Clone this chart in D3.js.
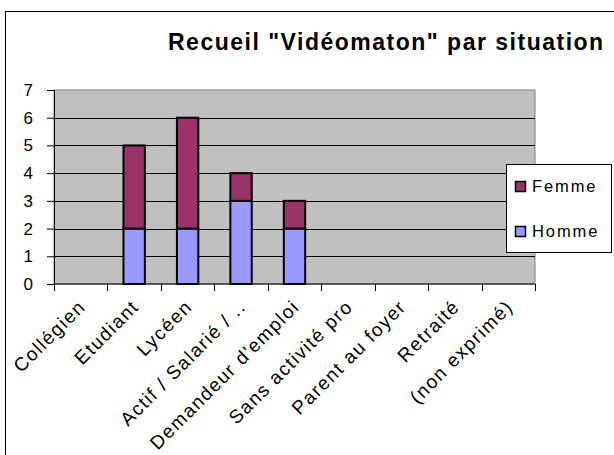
<!DOCTYPE html>
<head>
<meta charset="utf-8">
<title>Recueil "Vidéomaton" par situation</title>
<script src="https://d3js.org/d3.v7.min.js"></script>
<style>
body {
  margin: 0;
  background: #fff;
  font-family: "Liberation Sans", Arial, sans-serif;
}

svg text {
  fill: #000;
}

.title {
  font-size: 23px;
  font-weight: bold;
  letter-spacing: 1.5px;
}

.y.axis text {
  font-size: 17px;
}

.x.axis text {
  font-size: 19px;
  letter-spacing: 1.5px;
}

.grid line {
  stroke: #000;
  stroke-width: 1px;
}

.legend text {
  font-size: 16.5px;
  letter-spacing: 1.9px;
}
</style>
</head>
<body>
<script>

// categories and values
const categories = ["Collégien", "Etudiant", "Lycéen", "Actif / Salarié / ..", "Demandeur d'emploi",
  "Sans activité pro", "Parent au foyer", "Retraité", "(non exprimé)"];
const homme = [0, 2, 2, 3, 2, 0, 0, 0, 0];
const femme = [0, 3, 4, 1, 1, 0, 0, 0, 0];
const seriesNames = ["Homme", "Femme"];
const yTicks = [0, 1, 2, 3, 4, 5, 6, 7];

const width = 614,
  height = 455;

const color = d3.scaleOrdinal()
  .domain(seriesNames)
  .range(["#9999FF", "#993366"]);

const margin = {top: 90, right: 79, bottom: 171, left: 54};
const plotW = width - margin.left - margin.right,
  plotH = height - margin.top - margin.bottom;

let svg = d3.select('body').append('svg')
  .attr('width', width)
  .attr('height', height);

// chart frame (runs off the right and bottom of the picture)
svg.append('rect')
  .attr('x', 5.5)
  .attr('y', 11.5)
  .attr('width', 640)
  .attr('height', 480)
  .attr('fill', 'none')
  .attr('stroke', '#000');

svg.append('text')
  .attr('class', 'title')
  .attr('x', 168)
  .attr('y', 50)
  .text('Recueil "Vidéomaton" par situation');

let g = svg.append('g')
  .attr('transform', 'translate(' + margin.left + ',' + margin.top + ')');

let x = d3.scaleBand()
  .domain(categories)
  .range([0, plotW])
  .paddingInner(0.6)
  .paddingOuter(0.3);

let y = d3.scaleLinear()
  .domain([0, 7])
  .range([plotH, 0]);

g.append('rect')
  .attr('width', plotW)
  .attr('height', plotH)
  .attr('fill', '#C0C0C0')
  .attr('stroke', '#808080');

g.append('g')
  .attr('class', 'grid')
  .selectAll('line')
  .data(yTicks.slice(1, -1))
  .enter().append('line')
    .attr('x1', 0)
    .attr('x2', plotW)
    .attr('y1', d => Math.round(y(d)) + 0.5)
    .attr('y2', d => Math.round(y(d)) + 0.5);

let table = categories.map((c, i) => ({cat: c, Homme: homme[i], Femme: femme[i]}));
let stacked = d3.stack().keys(seriesNames)(table);

g.append('g')
  .selectAll('g')
  .data(stacked)
  .enter().append('g')
    .attr('fill', d => color(d.key))
  .selectAll('rect')
  .data(d => d.filter(p => p[1] > p[0]))
  .enter().append('rect')
    .attr('x', d => x(d.data.cat))
    .attr('y', d => y(d[1]))
    .attr('width', x.bandwidth())
    .attr('height', d => y(d[0]) - y(d[1]))
    .attr('stroke', '#000')
    .attr('stroke-width', 2);

// y axis
let yAxis = g.append('g')
  .attr('class', 'y axis')
  .call(d3.axisLeft(y).tickValues(yTicks).tickSize(7).tickPadding(14).tickFormat(d3.format('d')));
yAxis.select('.domain').attr('stroke', '#000');

// x axis, ticks on category boundaries
let step = plotW / categories.length;
let xAxis = g.append('g')
  .attr('class', 'x axis')
  .attr('transform', 'translate(0,' + plotH + ')');

xAxis.append('line')
  .attr('x1', 0)
  .attr('x2', plotW)
  .attr('stroke', '#000');

xAxis.selectAll('line.tick')
  .data(d3.range(categories.length + 1))
  .enter().append('line')
    .attr('class', 'tick')
    .attr('x1', d => Math.round(d * step) + 0.5)
    .attr('x2', d => Math.round(d * step) + 0.5)
    .attr('y1', 0)
    .attr('y2', 7)
    .attr('stroke', '#000');

xAxis.selectAll('text')
  .data(categories)
  .enter().append('text')
    .attr('text-anchor', 'end')
    .attr('transform', d => 'translate(' + (x(d) + x.bandwidth() / 2 + 6) + ',24) rotate(-45)')
    .text(d => d);

// legend
let legend = svg.append('g')
  .attr('class', 'legend')
  .attr('transform', 'translate(506,164)');

legend.append('rect')
  .attr('x', 0.5)
  .attr('y', 0.5)
  .attr('width', 105)
  .attr('height', 88)
  .attr('fill', '#fff')
  .attr('stroke', '#000');

let items = legend.selectAll('g.item')
  .data(seriesNames.slice().reverse())
  .enter().append('g')
    .attr('class', 'item')
    .attr('transform', (d, i) => 'translate(9,' + (17 + i * 45) + ')');

items.append('rect')
  .attr('x', 0.5)
  .attr('y', 0.5)
  .attr('width', 10)
  .attr('height', 10)
  .attr('fill', d => color(d))
  .attr('stroke', '#000')
  .attr('stroke-width', 1.5);

items.append('text')
  .attr('x', 17)
  .attr('y', 11)
  .text(d => d);

</script>
</body>
